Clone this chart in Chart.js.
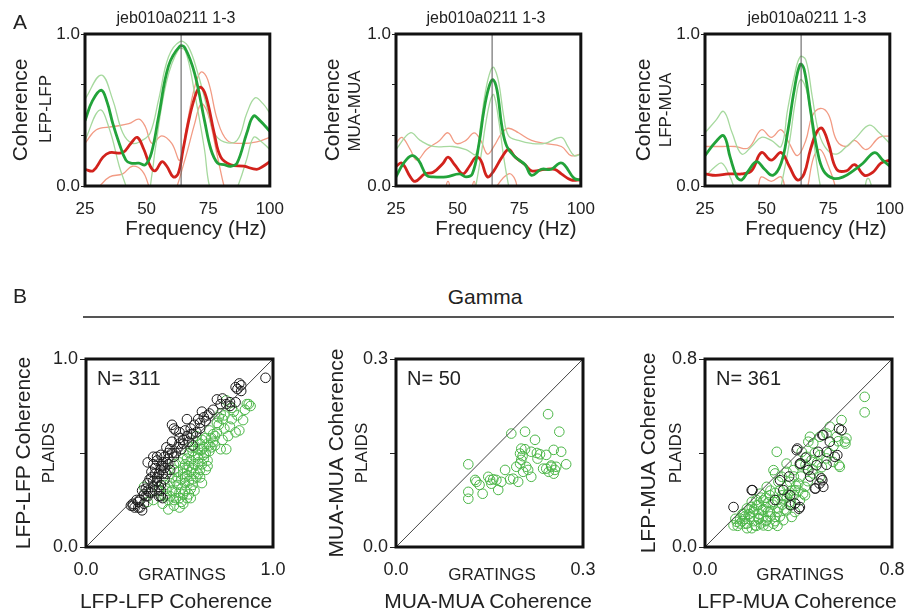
<!DOCTYPE html>
<html>
<head>
<meta charset="utf-8">
<script src="https://cdn.jsdelivr.net/npm/chart.js@4.4.0/dist/chart.umd.min.js"></script>
<style>
  html, body { margin: 0; padding: 0; background: #fff; overflow: hidden; }
  body { width: 909px; height: 612px; position: relative; font-family: 'Liberation Sans', Arial, sans-serif; color: #222; }
  canvas { position: absolute; }
  .lbl { position: absolute; line-height: 1; white-space: nowrap; transform: translate(-50%, -50%); }
  .rot { transform: translate(-50%, -50%) rotate(-90deg); }
  .lft { transform: translate(0, -50%); }
  .rule { position: absolute; left: 83px; top: 316px; width: 811px; height: 2px; background: #555; }
</style>
</head>
<body>
<canvas id="spec-ll" width="289" height="250" style="left:0;top:0"></canvas>
<canvas id="spec-mm" width="289" height="250" style="left:311px;top:0"></canvas>
<canvas id="spec-lm" width="289" height="250" style="left:620px;top:0"></canvas>
<canvas id="sc-ll" width="290" height="282" style="left:0;top:330px"></canvas>
<canvas id="sc-mm" width="290" height="282" style="left:310px;top:330px"></canvas>
<canvas id="sc-lm" width="290" height="282" style="left:619px;top:330px"></canvas>

<div class="lbl" style="left:20px;top:21px;font-size:21px">A</div>
<div class="lbl" style="left:176px;top:18px;font-size:16px">jeb010a0211 1-3</div>
<div class="lbl" style="left:486px;top:18px;font-size:16px">jeb010a0211 1-3</div>
<div class="lbl" style="left:807px;top:18px;font-size:16px">jeb010a0211 1-3</div>
<div class="lbl rot" style="left:45px;top:109px;font-size:17px">LFP-LFP</div>
<div class="lbl rot" style="left:354px;top:111px;font-size:17px">MUA-MUA</div>
<div class="lbl rot" style="left:665px;top:110px;font-size:17px">LFP-MUA</div>
<div class="lbl" style="left:196px;top:228px;font-size:20.5px">Frequency (Hz)</div>
<div class="lbl" style="left:506px;top:228px;font-size:20.5px">Frequency (Hz)</div>
<div class="lbl" style="left:816px;top:228px;font-size:20.5px">Frequency (Hz)</div>

<div class="lbl" style="left:20px;top:295px;font-size:21px">B</div>
<div class="lbl" style="left:485px;top:296px;font-size:21px">Gamma</div>
<div class="rule"></div>
<div class="lbl lft" style="left:97px;top:378px;font-size:20px">N= 311</div>
<div class="lbl lft" style="left:407px;top:378px;font-size:20px">N= 50</div>
<div class="lbl lft" style="left:716px;top:378px;font-size:20px">N= 361</div>
<div class="lbl rot" style="left:48px;top:453px;font-size:17px">PLAIDS</div>
<div class="lbl rot" style="left:361px;top:453px;font-size:17px">PLAIDS</div>
<div class="lbl rot" style="left:675px;top:453px;font-size:17px">PLAIDS</div>
<div class="lbl" style="left:182px;top:574px;font-size:17px">GRATINGS</div>
<div class="lbl" style="left:492px;top:574px;font-size:17px">GRATINGS</div>
<div class="lbl" style="left:800px;top:574px;font-size:17px">GRATINGS</div>
<div class="lbl" style="left:176px;top:600px;font-size:21px">LFP-LFP Coherence</div>
<div class="lbl" style="left:488px;top:600px;font-size:21px">MUA-MUA Coherence</div>
<div class="lbl" style="left:797px;top:600px;font-size:21px">LFP-MUA Coherence</div>

<script>
// ---- panel A: coherence spectra, [frequency Hz, coherence] ----
const topXTicks = [25, 50, 75, 100];
const topYTicks = [0, 1 / 3, 2 / 3, 1];
const stimFreq = 64;

const lfpLfpGreen = [[25,0.43],[28,0.56],[31.6,0.63],[34,0.55],[36.3,0.41],[38.9,0.28],[41.6,0.17],[43.6,0.15],[46.9,0.15],[49.5,0.14],[52,0.22],[54.9,0.46],[58.9,0.79],[63.5,0.92],[65.5,0.91],[69.5,0.74],[73.5,0.43],[76.1,0.24],[78.8,0.15],[81.4,0.14],[84.1,0.13],[86.7,0.15],[90.7,0.35],[93.4,0.46],[96,0.43],[100,0.36]];
const lfpLfpRed = [[25,0.11],[28.3,0.10],[32.3,0.19],[35,0.22],[40.3,0.22],[43.6,0.28],[46.2,0.32],[48.9,0.24],[51.5,0.13],[53.5,0.10],[56.2,0.16],[58.2,0.13],[60.8,0.06],[62.8,0.08],[64.8,0.24],[67.5,0.46],[70.1,0.61],[71.8,0.65],[74.1,0.59],[77.4,0.35],[80.1,0.19],[84.1,0.14],[89.4,0.13],[94.7,0.11],[97.3,0.13],[100,0.16]];
const lfpLfpGreenHi = [[25,0.57],[31.6,0.73],[36.2,0.57],[40.3,0.35],[44.2,0.28],[48.2,0.30],[51.5,0.35],[54.9,0.57],[58.9,0.85],[63.5,0.95],[66.8,0.92],[70.8,0.74],[74.8,0.50],[77.4,0.35],[81.4,0.29],[86.7,0.30],[90.7,0.48],[94,0.58],[97.3,0.54],[100,0.48]];
const lfpLfpGreenLo = [[25,0.30],[31,0.50],[35,0.37],[38.9,0.13],[41.6,0],[45,-0.2],[50,-0.1],[52.2,0.08],[53.5,0.24],[58,0.68],[63,0.90],[65.7,0.89],[69.5,0.61],[73.5,0.24],[75.5,0],[80,-0.2],[84,-0.1],[87.5,0.02],[90.7,0.18],[93.4,0.32],[96,0.30],[100,0.24]];
const lfpLfpRedHi = [[25,0.28],[29.6,0.37],[36.2,0.39],[42.8,0.41],[46.9,0.44],[49.5,0.39],[52.2,0.28],[56.2,0.33],[60.2,0.28],[63.5,0.17],[66.2,0.39],[69.5,0.65],[72.1,0.75],[74.8,0.70],[78.8,0.43],[82.7,0.30],[88,0.28],[94.7,0.29],[100,0.32]];
const lfpLfpRedLo = [[25,-0.1],[31,0],[35,0.06],[40.3,0.08],[44.2,0.13],[48.2,0.10],[50.9,0],[55,-0.2],[60,-0.1],[65.5,0.17],[69.5,0.41],[72.1,0.54],[74.8,0.48],[78.8,0.19],[81.4,0],[85,-0.2],[100,-0.2]];

const muaMuaGreen = [[25,0.06],[28.1,0.15],[31.4,0.20],[34.1,0.17],[37.4,0.07],[40.1,0.06],[45.4,0.06],[50.7,0.08],[53.4,0.06],[56,0.08],[58.7,0.28],[60.7,0.50],[62.7,0.65],[64.3,0.70],[66,0.63],[68,0.39],[70,0.26],[73.4,0.19],[77.4,0.14],[80,0.07],[84,0.11],[88,0.11],[91.3,0.15],[93.3,0.14],[97.3,0.05],[100,0.04]];
const muaMuaRed = [[25,0.13],[27.4,0.15],[30.8,0.06],[32.8,0.03],[36.8,0.08],[40.1,0.09],[44.1,0.15],[46.1,0.19],[48.8,0.14],[52.1,0.08],[54.8,0.13],[57.4,0.19],[59.4,0.17],[62.1,0.06],[64.7,0.10],[68,0.19],[70.7,0.24],[73.4,0.19],[77.4,0.14],[80,0.10],[85.4,0.11],[89.4,0.11],[92.1,0.08],[96,0.04],[100,0.04]];
const muaMuaGreenHi = [[25,0.24],[30.8,0.35],[34.8,0.30],[40.1,0.26],[48.1,0.26],[53.4,0.24],[57.4,0.21],[59.4,0.41],[61.4,0.63],[63.4,0.76],[64.7,0.78],[66.7,0.68],[68.7,0.46],[70.7,0.33],[74.7,0.30],[80,0.28],[85.4,0.28],[92.1,0.32],[94.7,0.26],[97.3,0.20],[100,0.21]];
const muaMuaGreenLo = [[25,-0.2],[55,-0.2],[57.4,0],[59.4,0.19],[61.4,0.41],[63.4,0.57],[64.7,0.60],[66.7,0.43],[68.7,0.19],[70.7,0],[73,-0.2],[100,-0.2]];
const muaMuaRedHi = [[25,0.28],[27.4,0.32],[30.8,0.24],[33.5,0.17],[37.4,0.24],[42.7,0.30],[46.1,0.35],[49.4,0.28],[53.4,0.30],[56.7,0.35],[59.4,0.30],[62.1,0.21],[64.7,0.26],[68,0.35],[70.7,0.38],[74.7,0.35],[80,0.30],[85.4,0.28],[92.1,0.26],[96,0.20],[100,0.21]];
const muaMuaRedLo = [[25,-0.2],[43,-0.1],[46.1,0.03],[48.5,-0.1],[54,-0.1],[56.7,0.03],[58.5,-0.1],[63,-0.1],[66,0],[70.7,0.08],[73.4,0.04],[76,-0.1],[100,-0.2]];

const lfpMuaGreen = [[25,0.20],[29.3,0.29],[32.6,0.33],[35.2,0.19],[37.9,0.06],[39.9,0.04],[42.6,0.10],[45.9,0.16],[49.2,0.11],[52.5,0.07],[55.9,0.15],[58.5,0.35],[61.2,0.63],[63.6,0.80],[65.2,0.77],[67.8,0.50],[70.5,0.24],[73.1,0.10],[77.1,0.05],[81.1,0.06],[85.1,0.10],[89.1,0.15],[93.8,0.22],[97.1,0.17],[100,0.13]];
const lfpMuaRed = [[25,0.08],[29.3,0.07],[34.6,0.08],[39.9,0.08],[43.9,0.10],[47.9,0.22],[51.9,0.17],[55.9,0.22],[59.2,0.13],[62.5,0.04],[65.2,0.08],[67.8,0.24],[70.5,0.36],[72.5,0.38],[75.1,0.28],[78.4,0.11],[82.4,0.10],[85.7,0.14],[89.7,0.07],[93.1,0.09],[96.4,0.15],[100,0.17]];
const lfpMuaGreenHi = [[25,0.35],[29.3,0.43],[32.6,0.49],[36,0.35],[39.9,0.21],[43.9,0.26],[47.9,0.32],[51.9,0.30],[55.9,0.26],[58.5,0.50],[61.2,0.72],[63.6,0.85],[65.9,0.83],[68.5,0.59],[71.2,0.35],[74.5,0.24],[78.4,0.21],[82.4,0.26],[86.4,0.32],[91.7,0.40],[95.7,0.35],[100,0.28]];
const lfpMuaGreenLo = [[25,0.06],[29.3,0.13],[31.9,0.15],[34.6,0.08],[36.6,0],[40,-0.2],[53,-0.2],[55.9,0],[59.2,0.28],[61.8,0.57],[63.8,0.70],[66.5,0.61],[69.1,0.30],[71.8,0],[75,-0.2],[88,-0.1],[91,0.05],[93.8,-0.05],[100,-0.2]];
const lfpMuaRedHi = [[25,0.26],[31.9,0.26],[37.2,0.26],[42.6,0.25],[47.9,0.37],[51.9,0.32],[55.9,0.37],[59.2,0.28],[62.5,0.20],[65.9,0.30],[68.5,0.46],[71.8,0.51],[75.1,0.47],[78.4,0.30],[82.4,0.26],[85.7,0.30],[90.4,0.24],[95.7,0.32],[100,0.33]];
const lfpMuaRedLo = [[25,-0.2],[44,-0.1],[46.6,0],[47.9,0.06],[51.9,0.03],[55.9,0.06],[58,-0.05],[62,-0.2],[66,-0.05],[69.1,0.19],[71.8,0.24],[75.1,0.13],[77.8,0],[80,-0.2],[100,-0.2]];

// ---- panel B: gamma coherence, [gratings, plaids] ----
const scLfpLfpBlack = [[0.96,0.90],[0.83,0.86],[0.81,0.84],[0.83,0.83],[0.82,0.87],[0.80,0.85],[0.70,0.785],[0.75,0.76],[0.77,0.75],[0.80,0.77],[0.77,0.77],[0.62,0.72],[0.63,0.69],[0.66,0.71],[0.64,0.67],[0.61,0.66],[0.54,0.68],[0.46,0.65],[0.47,0.63],[0.48,0.62],[0.50,0.61],[0.57,0.60],[0.61,0.63],[0.54,0.59],[0.56,0.60],[0.59,0.61],[0.55,0.56],[0.57,0.54],[0.45,0.52],[0.48,0.50],[0.51,0.52],[0.43,0.53],[0.46,0.50],[0.50,0.55],[0.36,0.48],[0.38,0.46],[0.40,0.49],[0.38,0.48],[0.41,0.43],[0.40,0.41],[0.43,0.39],[0.33,0.45],[0.36,0.44],[0.41,0.45],[0.40,0.43],[0.35,0.37],[0.38,0.35],[0.33,0.34],[0.34,0.36],[0.38,0.37],[0.41,0.39],[0.40,0.33],[0.37,0.30],[0.36,0.32],[0.40,0.30],[0.39,0.27],[0.32,0.27],[0.31,0.28],[0.33,0.30],[0.40,0.27],[0.41,0.26],[0.24,0.22],[0.28,0.21],[0.31,0.23],[0.25,0.23],[0.29,0.21],[0.30,0.195],[0.28,0.24],[0.27,0.25],[0.25,0.22],[0.44,0.47],[0.52,0.57],[0.35,0.40],[0.42,0.36],[0.68,0.73],[0.72,0.76],[0.58,0.65],[0.53,0.62],[0.45,0.41],[0.37,0.42],[0.30,0.30],[0.34,0.29],[0.36,0.35],[0.39,0.39],[0.42,0.42],[0.44,0.44],[0.47,0.48],[0.49,0.53],[0.52,0.55],[0.44,0.50],[0.42,0.48],[0.39,0.32],[0.35,0.29],[0.32,0.31],[0.37,0.39],[0.43,0.45],[0.46,0.56],[0.50,0.58],[0.56,0.63],[0.60,0.68],[0.65,0.70],[0.73,0.79],[0.29,0.25],[0.33,0.27],[0.26,0.21]];
const scLfpLfpGreen = [[0.87,0.76],[0.85,0.73],[0.81,0.70],[0.84,0.675],[0.75,0.78],[0.78,0.74],[0.86,0.76],[0.88,0.75],[0.72,0.71],[0.73,0.68],[0.70,0.66],[0.77,0.64],[0.80,0.61],[0.82,0.62],[0.66,0.62],[0.69,0.59],[0.73,0.57],[0.76,0.59],[0.59,0.59],[0.62,0.57],[0.65,0.55],[0.69,0.54],[0.72,0.52],[0.66,0.51],[0.75,0.52],[0.57,0.51],[0.60,0.49],[0.63,0.47],[0.54,0.47],[0.58,0.44],[0.65,0.43],[0.61,0.41],[0.50,0.45],[0.52,0.42],[0.56,0.40],[0.53,0.37],[0.57,0.36],[0.59,0.37],[0.62,0.34],[0.57,0.33],[0.47,0.41],[0.49,0.37],[0.45,0.34],[0.49,0.33],[0.53,0.30],[0.48,0.29],[0.43,0.31],[0.45,0.27],[0.50,0.26],[0.54,0.26],[0.41,0.23],[0.47,0.22],[0.50,0.21],[0.44,0.20],[0.36,0.25],[0.33,0.24],[0.47,0.25],[0.51,0.24],[0.56,0.26],[0.43,0.28],[0.31,0.32],[0.38,0.35],[0.55,0.43],[0.60,0.45],[0.64,0.50],[0.68,0.56],[0.70,0.61],[0.74,0.63],[0.78,0.68],[0.63,0.53],[0.58,0.48],[0.52,0.39],[0.55,0.35],[0.60,0.39],[0.51,0.31],[0.46,0.37],[0.42,0.33],[0.56,0.46],[0.67,0.58],[0.71,0.65],[0.62,0.44],[0.54,0.41],[0.52,0.47],[0.55,0.50],[0.58,0.53],[0.61,0.55],[0.64,0.58],[0.53,0.44],[0.57,0.42],[0.60,0.47],[0.63,0.49],[0.66,0.54],[0.51,0.36],[0.54,0.38],[0.58,0.39],[0.56,0.31],[0.53,0.34],[0.50,0.29],[0.48,0.26],[0.52,0.23],[0.55,0.28],[0.46,0.30],[0.44,0.25],[0.49,0.40],[0.47,0.44],[0.62,0.52],[0.68,0.60],[0.71,0.69],[0.74,0.70],[0.79,0.72],[0.59,0.56],[0.56,0.53],[0.60,0.52],[0.65,0.46],[0.67,0.53],[0.52,0.28],[0.58,0.30],[0.48,0.35],[0.42,0.27],[0.39,0.30],[0.61,0.37],[0.64,0.41]];
const scMuaMuaGreen = [[0.244,0.212],[0.185,0.181],[0.207,0.184],[0.262,0.184],[0.223,0.171],[0.201,0.157],[0.207,0.156],[0.217,0.152],[0.231,0.148],[0.241,0.147],[0.253,0.155],[0.265,0.152],[0.227,0.141],[0.199,0.149],[0.201,0.139],[0.199,0.133],[0.193,0.128],[0.204,0.120],[0.212,0.123],[0.217,0.112],[0.175,0.123],[0.188,0.109],[0.196,0.104],[0.183,0.108],[0.116,0.132],[0.127,0.107],[0.129,0.104],[0.148,0.112],[0.151,0.107],[0.153,0.101],[0.161,0.107],[0.169,0.104],[0.164,0.091],[0.139,0.085],[0.116,0.088],[0.116,0.077],[0.241,0.125],[0.249,0.128],[0.255,0.123],[0.253,0.117],[0.245,0.120],[0.273,0.132],[0.249,0.130],[0.209,0.128],[0.257,0.128],[0.203,0.145],[0.226,0.150],[0.236,0.125],[0.156,0.108],[0.134,0.099]];
const scLfpMuaBlack = [[0.122,0.170],[0.200,0.242],[0.392,0.412],[0.506,0.476],[0.584,0.497],[0.534,0.448],[0.484,0.405],[0.520,0.405],[0.555,0.384],[0.477,0.348],[0.498,0.292],[0.506,0.256],[0.470,0.249],[0.406,0.355],[0.442,0.327],[0.364,0.220],[0.406,0.170],[0.385,0.185],[0.321,0.284],[0.335,0.242],[0.573,0.504],[0.502,0.476],[0.566,0.391],[0.395,0.419],[0.502,0.284],[0.473,0.249],[0.409,0.355],[0.402,0.163],[0.367,0.178],[0.203,0.242],[0.45,0.30],[0.43,0.38],[0.52,0.35],[0.36,0.30],[0.30,0.20],[0.49,0.27]];
const scLfpMuaGreen = [[0.683,0.639],[0.683,0.573],[0.584,0.540],[0.605,0.462],[0.598,0.448],[0.563,0.469],[0.534,0.512],[0.520,0.483],[0.491,0.469],[0.449,0.469],[0.463,0.441],[0.442,0.448],[0.307,0.405],[0.414,0.405],[0.435,0.384],[0.456,0.370],[0.491,0.391],[0.520,0.377],[0.548,0.362],[0.577,0.341],[0.406,0.348],[0.435,0.334],[0.378,0.327],[0.463,0.313],[0.491,0.299],[0.300,0.313],[0.328,0.299],[0.349,0.320],[0.314,0.277],[0.364,0.277],[0.399,0.270],[0.428,0.256],[0.385,0.242],[0.420,0.227],[0.356,0.227],[0.321,0.242],[0.264,0.256],[0.236,0.227],[0.278,0.220],[0.250,0.199],[0.293,0.192],[0.335,0.206],[0.364,0.192],[0.406,0.199],[0.428,0.220],[0.200,0.192],[0.222,0.178],[0.179,0.164],[0.165,0.142],[0.207,0.149],[0.243,0.156],[0.278,0.149],[0.314,0.164],[0.349,0.156],[0.385,0.149],[0.193,0.128],[0.229,0.121],[0.264,0.114],[0.300,0.128],[0.150,0.121],[0.136,0.107],[0.172,0.099],[0.214,0.092],[0.250,0.092],[0.293,0.099],[0.335,0.114],[0.371,0.128],[0.122,0.092],[0.293,0.327],[0.349,0.355],[0.573,0.348],[0.601,0.440],[0.19,0.16],[0.23,0.14],[0.26,0.17],[0.21,0.11],[0.17,0.13],[0.24,0.10],[0.28,0.13],[0.31,0.15],[0.27,0.19],[0.33,0.18],[0.22,0.20],[0.16,0.11],[0.20,0.08],[0.26,0.21],[0.30,0.23],[0.35,0.26],[0.38,0.30],[0.25,0.13],[0.18,0.10],[0.14,0.09],[0.15,0.10],[0.17,0.12],[0.19,0.14],[0.21,0.16],[0.23,0.18],[0.25,0.16],[0.27,0.15],[0.29,0.18],[0.31,0.20],[0.33,0.22],[0.35,0.21],[0.37,0.24],[0.39,0.26],[0.41,0.30],[0.18,0.08],[0.22,0.09],[0.26,0.11],[0.30,0.11],[0.32,0.13],[0.34,0.16],[0.28,0.24],[0.24,0.21],[0.20,0.17],[0.16,0.14],[0.13,0.12],[0.36,0.18],[0.38,0.22],[0.40,0.24],[0.44,0.28],[0.46,0.33],[0.48,0.36],[0.50,0.34],[0.53,0.40],[0.55,0.43],[0.57,0.45],[0.47,0.40],[0.43,0.35],[0.27,0.09],[0.31,0.09],[0.23,0.12]];

const FONT = "'Liberation Sans', Arial, sans-serif";
Chart.defaults.font.family = FONT;
Chart.defaults.color = '#222';

const framePlugin = {
  id: 'frame',
  afterDatasetsDraw(chart) {
    const { ctx, chartArea: a } = chart;
    ctx.save();
    ctx.lineWidth = 3;
    ctx.strokeStyle = '#111';
    ctx.strokeRect(a.left, a.top, a.right - a.left, a.bottom - a.top);
    ctx.restore();
  }
};

const toXY = pairs => pairs.map(([x, y]) => ({ x, y }));

function curve(pairs, color, width, order) {
  return {
    data: toXY(pairs),
    borderColor: color,
    borderWidth: width,
    pointRadius: 0,
    tension: 0.4,
    fill: false,
    order
  };
}

function renderSpectrum(canvasId, s, titleOffset) {
  new Chart(document.getElementById(canvasId), {
    type: 'line',
    data: {
      datasets: [
        curve(s.green, '#22a33a', 2.8, 1),
        curve(s.red, '#d2221c', 2.8, 2),
        curve(s.greenHi, '#a6d99e', 1.3, 3),
        curve(s.greenLo, '#a6d99e', 1.3, 4),
        curve(s.redHi, '#f29b84', 1.3, 5),
        curve(s.redLo, '#f29b84', 1.3, 6),
        { data: toXY([[stimFreq, 0], [stimFreq, 1]]), borderColor: '#555', borderWidth: 1, pointRadius: 0, order: 0 }
      ]
    },
    options: {
      responsive: false,
      animation: false,
      layout: { padding: { top: 34, right: 16, left: 0, bottom: 0 } },
      plugins: { legend: { display: false }, tooltip: { enabled: false } },
      scales: {
        x: {
          type: 'linear', min: 25, max: 100,
          afterBuildTicks: sc => { sc.ticks = topXTicks.map(v => ({ value: v })); },
          afterFit: sc => { sc.height = 64; },
          grid: { display: false },
          border: { display: false },
          ticks: { padding: 5, maxRotation: 0, font: { size: 17 }, color: '#222' }
        },
        y: {
          min: 0, max: 1,
          afterBuildTicks: sc => { sc.ticks = topYTicks.map(v => ({ value: v })); },
          afterFit: sc => { sc.width = 85; },
          grid: { drawOnChartArea: false, drawTicks: true, tickLength: 4, color: '#222' },
          border: { display: false },
          ticks: {
            padding: 1, font: { size: 17 }, color: '#222',
            callback: v => (v === 0 || v === 1) ? v.toFixed(1) : ''
          },
          title: { display: true, text: 'Coherence', font: { size: 21 }, color: '#222', padding: { top: titleOffset - 12.6, bottom: 0 } }
        }
      }
    },
    plugins: [framePlugin]
  });
}

function renderScatter(canvasId, black, green, max, label, titleOffset) {
  const datasets = [
    { data: toXY([[0, 0], [max, max]]), showLine: true, borderColor: '#444', borderWidth: 1, pointRadius: 0, order: 0 }
  ];
  if (black) datasets.push({ data: toXY(black), pointRadius: 4.8, borderWidth: 1, borderColor: '#1a1a1a', backgroundColor: 'rgba(0,0,0,0)', order: 1 });
  datasets.push({ data: toXY(green), pointRadius: 4.8, borderWidth: 1, borderColor: '#4cb648', backgroundColor: 'rgba(0,0,0,0)', order: 2 });

  new Chart(document.getElementById(canvasId), {
    type: 'scatter',
    data: { datasets },
    options: {
      responsive: false,
      animation: false,
      layout: { padding: { top: 29, right: 17, left: 0, bottom: 0 } },
      plugins: { legend: { display: false }, tooltip: { enabled: false } },
      scales: {
        x: {
          type: 'linear', min: 0, max,
          afterBuildTicks: sc => { sc.ticks = [0, max].map(v => ({ value: v })); },
          afterFit: sc => { sc.height = 65; },
          grid: { display: false },
          border: { display: false },
          ticks: { padding: 4, maxRotation: 0, font: { size: 18 }, color: '#222', callback: v => v.toFixed(1) }
        },
        y: {
          min: 0, max,
          afterBuildTicks: sc => { sc.ticks = [0, max / 2, max].map(v => ({ value: v })); },
          afterFit: sc => { sc.width = 86; },
          grid: { drawOnChartArea: false, drawTicks: true, tickLength: 6, color: '#222' },
          border: { display: false },
          ticks: {
            padding: 2, font: { size: 18 }, color: '#222',
            callback: v => (v === 0 || v === max) ? v.toFixed(1) : ''
          },
          title: { display: true, text: label, font: { size: 21 }, color: '#222', padding: { top: titleOffset - 12.6, bottom: 0 } }
        }
      }
    },
    plugins: [framePlugin]
  });
}

renderSpectrum('spec-ll', { green: lfpLfpGreen, red: lfpLfpRed, greenHi: lfpLfpGreenHi, greenLo: lfpLfpGreenLo, redHi: lfpLfpRedHi, redLo: lfpLfpRedLo }, 21);
renderSpectrum('spec-mm', { green: muaMuaGreen, red: muaMuaRed, greenHi: muaMuaGreenHi, greenLo: muaMuaGreenLo, redHi: muaMuaRedHi, redLo: muaMuaRedLo }, 22);
renderSpectrum('spec-lm', { green: lfpMuaGreen, red: lfpMuaRed, greenHi: lfpMuaGreenHi, greenLo: lfpMuaGreenLo, redHi: lfpMuaRedHi, redLo: lfpMuaRedLo }, 24);

renderScatter('sc-ll', scLfpLfpBlack, scLfpLfpGreen, 1.0, 'LFP-LFP Coherence', 24);
renderScatter('sc-mm', null, scMuaMuaGreen, 0.3, 'MUA-MUA Coherence', 27);
renderScatter('sc-lm', scLfpMuaBlack, scLfpMuaGreen, 0.8, 'LFP-MUA Coherence', 30);
</script>
</body>
</html>
